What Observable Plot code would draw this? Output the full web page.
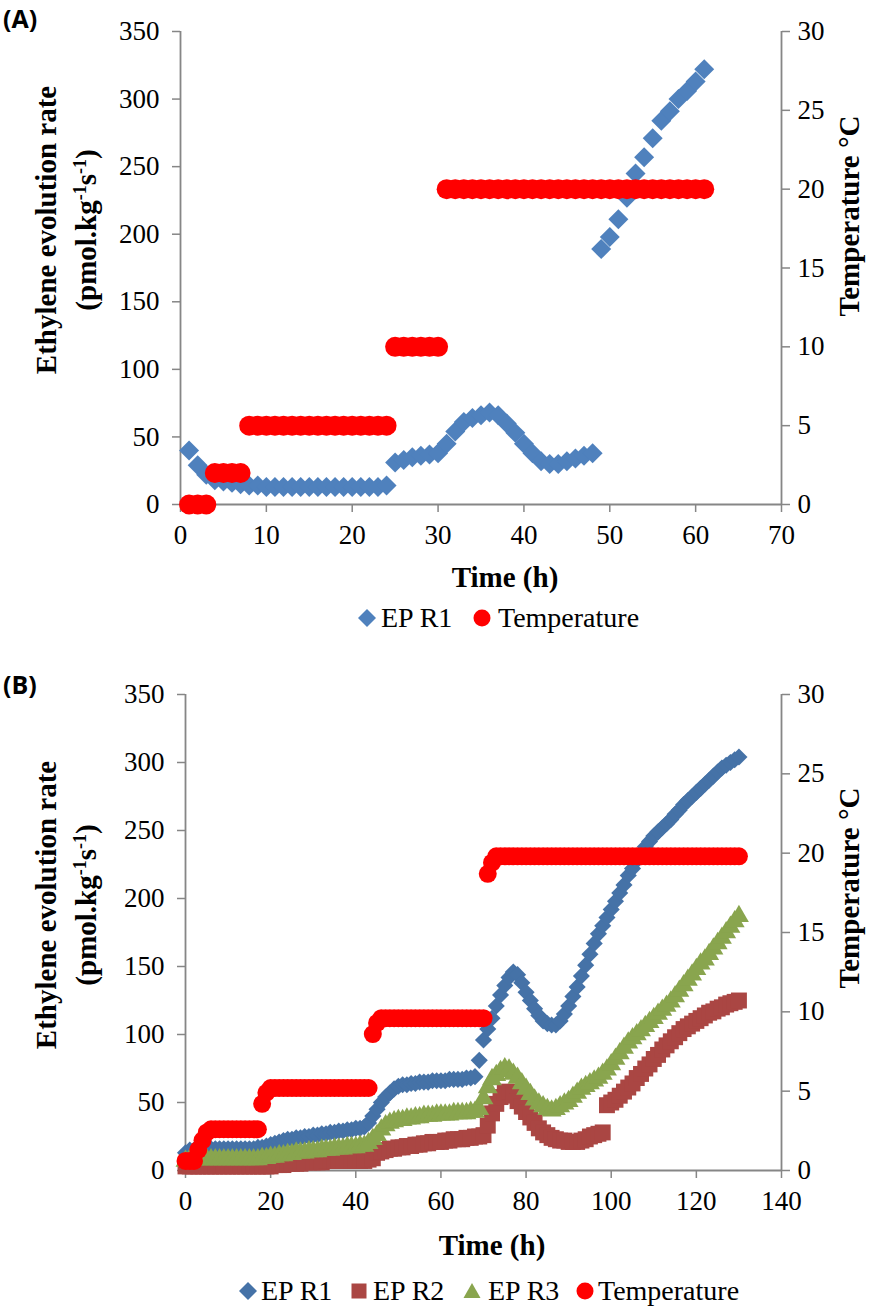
<!DOCTYPE html>
<html><head><meta charset="utf-8">
<script src="https://cdn.jsdelivr.net/npm/d3@7"></script>
<script src="https://cdn.jsdelivr.net/npm/@observablehq/plot@0.6"></script>
<style>
body{margin:0;background:#fff;}
#wrap{position:relative;width:891px;height:1307px;overflow:hidden;font-family:"Liberation Serif","Times New Roman",Tinos,"DejaVu Serif",serif;color:#000;}
#wrap svg text{font-family:"Liberation Serif","Times New Roman",Tinos,"DejaVu Serif",serif;}
.abs{position:absolute;white-space:nowrap;}
.c{transform:translate(-50%,-50%);}
.rot{transform:translate(-50%,-50%) rotate(-90deg);text-align:center;}
.t{font-weight:bold;font-size:29px;line-height:40px;}
.lg{font-size:28px;transform:translateY(-50%);line-height:32px;}
.pl{font-family:"Open Sans","Liberation Sans",sans-serif;font-weight:bold;font-size:25px;line-height:30px;}
sup{font-size:0.62em;vertical-align:0.55em;line-height:0;}
g[aria-label$="-axis tick"]{stroke:#868686;}
</style>
</head><body>
<div id="wrap"></div>
<script>
// ---------- Panel A data ----------
const timeA = [1,2,3,4,5,6,7,8,9,10,11,12,13,14,15,16,17,18,19,20,21,22,23,24,25,26,27,28,29,30,
  31,32,33,34,35,36,37,38,39,40,41,42,43,44,45,46,47,48,49,50,51,52,53,54,55,56,57,58,59,60,61];
const epR1A = [40,29,22,18,17,16,15,14,14,13,13,13,13,13,13,13,13,13,13,13,13,13,13,14,31,33,35,36,37,38,
  45,54,61,64,66,68,66,60,53,45,38,32,30,30,32,34,36,38,189,198,211,227,245,257,271,284,291,300,306,313,322];
const tempA = [0,0,0,2,2,2,2,5,5,5,5,5,5,5,5,5,5,5,5,5,5,5,5,5,10,10,10,10,10,10,
  20,20,20,20,20,20,20,20,20,20,20,20,20,20,20,20,20,20,20,20,20,20,20,20,20,20,20,20,20,20,20];

// ---------- Panel B data ----------
const timeB = [0,1,2,3,4,5,6,7,8,9,10,11,12,13,14,15,16,17,18,19,20,21,22,23,24,25,26,27,28,29,
  30,31,32,33,34,35,36,37,38,39,40,41,42,43,44,45,46,47,48,49,50,51,52,53,54,55,56,57,58,59,
  60,61,62,63,64,65,66,67,68,69,70,71,72,73,74,75,76,77,78,79,80,81,82,83,84,85,86,87,88,89,
  90,91,92,93,94,95,96,97,98,99,100,101,102,103,104,105,106,107,108,109,110,111,112,113,114,115,116,117,118,119,
  120,121,122,123,124,125,126,127,128,129,130];
const epR1B = [13,15,15,16,16,16,16,16,16,16, 16,16,16,16,16,16,16,17,17,18,
  19,20,21,22,23,23,24,24,25,25, 26,26,27,27,28,28,29,29,30,30,
  31,31,32,35,40,45,50,54,57,60, 62,63,63,64,64,65,65,65,66,66,
  66,66,67,67,67,67,68,68,69,81, 96,104,112,121,129,136,142,146,144,138,
  131,125,119,114,110,108,107,107,110,115, 121,128,135,143,151,159,167,174,180,186,
  192,198,204,210,217,222,228,233,238,242, 246,249,252,255,258,262,265,269,272,275,
  278,281,284,287,290,293,296,298,300,302, 304];
const epR2B = [3,3,3,3,3,3,3,3,3,3, 3,3,3,3,3,3,3,3,3,3,
  3,4,4,4,5,5,5,5,6,6, 6,6,6,7,7,7,7,7,7,7,
  7,7,7,8,9,13,14,15,16,16, 17,17,18,18,19,19,20,20,21,21,
  21,22,22,23,23,23,24,24,25,25, 26,33,42,49,54,57,58,55,51,47,
  43,39,35,31,28,26,24,23,22,22, 21,21,21,22,23,25,26,27,28,48,
  50,52,55,58,61,64,68,71,75,78, 82,85,89,92,95,98,101,104,106,108,
  110,112,114,116,117,119,120,122,123,124, 125];
const epR3B = [7,8,8,8,8,8,8,8,8,8, 8,8,8,8,8,8,8,8,9,9,
  10,10,11,11,12,12,13,13,13,14, 14,14,15,15,15,16,16,16,17,17,
  17,18,18,20,23,26,30,33,35,36, 37,37,38,38,39,39,40,40,40,41,
  41,41,41,42,42,42,42,43,43,45, 53,61,67,70,73,75,74,71,68,64,
  60,56,52,49,47,45,44,45,47,49, 51,54,57,60,62,64,66,68,71,74,
  78,82,86,90,94,97,100,103,106,109, 112,115,118,121,124,128,132,136,140,144,
  148,152,155,159,163,167,171,175,179,183, 187];
const tempB = [0.6,0.6,0.6,1.3,1.9,2.4,2.6,2.6,2.6,2.6, 2.6,2.6,2.6,2.6,2.6,2.6,2.6,2.6,4.2,4.9,
  5.2,5.2,5.2,5.2,5.2,5.2,5.2,5.2,5.2,5.2, 5.2,5.2,5.2,5.2,5.2,5.2,5.2,5.2,5.2,5.2,
  5.2,5.2,5.2,5.2,8.6,9.3,9.6,9.6,9.6,9.6, 9.6,9.6,9.6,9.6,9.6,9.6,9.6,9.6,9.6,9.6,
  9.6,9.6,9.6,9.6,9.6,9.6,9.6,9.6,9.6,9.6, 9.6,18.7,19.4,19.8,19.8,19.8,19.8,19.8,19.8,19.8,
  19.8,19.8,19.8,19.8,19.8,19.8,19.8,19.8,19.8,19.8, 19.8,19.8,19.8,19.8,19.8,19.8,19.8,19.8,19.8,19.8,
  19.8,19.8,19.8,19.8,19.8,19.8,19.8,19.8,19.8,19.8, 19.8,19.8,19.8,19.8,19.8,19.8,19.8,19.8,19.8,19.8,
  19.8,19.8,19.8,19.8,19.8,19.8,19.8,19.8,19.8,19.8, 19.8];

// ---------- ticks ----------
const yTicks = [0,50,100,150,200,250,300,350];
const tempTicks = [0,5,10,15,20,25,30];
const xTicksA = [0,10,20,30,40,50,60,70];
const xTicksB = [0,20,40,60,80,100,120,140];

// colours
const AX = "#868686";
const RED = "#FF0000";
const K = 350 / 30; // right-axis (°C) to left-axis units
const SERIF = "'Liberation Serif','Times New Roman',Tinos,'DejaVu Serif',serif";

const rowsA = timeA.map((t, i) => ({t, ep: epR1A[i], temp: tempA[i]}));
const rowsB = timeB.map((t, i) => ({t, r1: epR1B[i], r2: epR2B[i], r3: epR3B[i], temp: tempB[i]}));

function frame(xmax, ticksX, extraMarks, m) {
  return Plot.plot({
    width: 891, height: 560,
    marginTop: m.top, marginBottom: m.bottom, marginLeft: m.left, marginRight: 110,
    style: {fontFamily: SERIF, fontSize: "27px", color: "#000", background: "transparent", overflow: "visible"},
    x: {domain: [0, xmax]},
    y: {domain: [0, 350]},
    marks: [
      Plot.axisX(ticksX, {tickSize: 8, tickPadding: 12, label: null, stroke: AX, color: "#000", strokeWidth: 1.5, fontSize: 27, fontFamily: SERIF}),
      Plot.axisY(yTicks, {anchor: "left", tickSize: 8, tickPadding: 13, label: null, stroke: AX, color: "#000", strokeWidth: 1.5, fontSize: 27, fontFamily: SERIF}),
      Plot.axisY(tempTicks.map(v => v * K), {anchor: "right", tickSize: 8, tickPadding: 8, label: null, stroke: AX, color: "#000", strokeWidth: 1.5, fontSize: 27, fontFamily: SERIF, tickFormat: d => Math.round(d / K)}),
      Plot.ruleY([0], {stroke: AX, strokeWidth: 1.8}),
      Plot.ruleX([0, xmax], {stroke: AX, strokeWidth: 1.8}),
      ...extraMarks
    ]
  });
}

const svgA = frame(70, xTicksA, [
  Plot.dot(rowsA, {x: "t", y: "ep", symbol: "diamond2", r: 9, fill: "#4F81BD"}),
  Plot.dot(rowsA, {x: "t", y: d => d.temp * K, symbol: "circle", r: 10, fill: RED})
], {top: 31, bottom: 56, left: 180});

const svgB = frame(140, xTicksB, [
  Plot.dot(rowsB, {x: "t", y: "r1", symbol: "diamond2", r: 7.7, fill: "#4572A7"}),
  Plot.dot(rowsB, {x: "t", y: "r2", symbol: "square", r: 9, fill: "#AA4643"}),
  Plot.dot(rowsB, {x: "t", y: "r3", symbol: "triangle", r: 7.4, fill: "#89A54E"}),
  Plot.dot(rowsB, {x: "t", y: d => d.temp * K, symbol: "circle", r: 9, fill: RED})
], {top: 34, bottom: 50, left: 185});

const wrap = document.getElementById("wrap");
function place(el, top) { el.style.position = "absolute"; el.style.left = "0px"; el.style.top = top + "px"; wrap.appendChild(el); }
place(svgA, 0);
place(svgB, 660);

function html(s) { wrap.insertAdjacentHTML("beforeend", s); }
const yTitle = 'Ethylene evolution rate<br>(pmol.kg<sup>-1</sup>s<sup>-1</sup>)';
// Panel A texts
html('<div class="abs pl" style="left:3px;top:3px">(A)</div>');
html(`<div class="abs t rot" style="left:66px;top:230px">${yTitle}</div>`);
html('<div class="abs t rot" style="left:849px;top:216px">Temperature °C</div>');
html('<div class="abs t c" style="left:505px;top:577px">Time (h)</div>');
// Panel B texts
html('<div class="abs pl" style="left:3px;top:669px">(B)</div>');
html(`<div class="abs t rot" style="left:66px;top:905px">${yTitle}</div>`);
html('<div class="abs t rot" style="left:849px;top:888px">Temperature °C</div>');
html('<div class="abs t c" style="left:492px;top:1245px">Time (h)</div>');

// Legends
function marker(kind, color, cx, cy) {
  let shape = "";
  if (kind === "diamond") shape = `<path d="M9 0L18 9L9 18L0 9Z" fill="${color}"/>`;
  if (kind === "circle") shape = `<circle cx="9" cy="9" r="8.5" fill="${color}"/>`;
  if (kind === "square") shape = `<rect x="1.5" y="1.5" width="15" height="15" fill="${color}"/>`;
  if (kind === "triangle") shape = `<path d="M9 1L17.5 16L0.5 16Z" fill="${color}"/>`;
  html(`<svg class="abs" width="18" height="18" style="left:${cx - 9}px;top:${cy - 9}px">${shape}</svg>`);
}
function legText(s, x, y) { html(`<div class="abs lg" style="left:${x}px;top:${y}px">${s}</div>`); }
const legendA = [["diamond", "#4F81BD", 367, 381, "EP R1"], ["circle", RED, 482, 498, "Temperature"]];
legendA.forEach(([k, c, mx, tx, s]) => { marker(k, c, mx, 618); legText(s, tx, 618); });
const legendB = [["diamond", "#4572A7", 248, 261, "EP R1"], ["square", "#AA4643", 359, 373, "EP R2"],
  ["triangle", "#89A54E", 472, 488, "EP R3"], ["circle", RED, 585, 598, "Temperature"]];
legendB.forEach(([k, c, mx, tx, s]) => { marker(k, c, mx, 1291); legText(s, tx, 1291); });
</script>
</body></html>
